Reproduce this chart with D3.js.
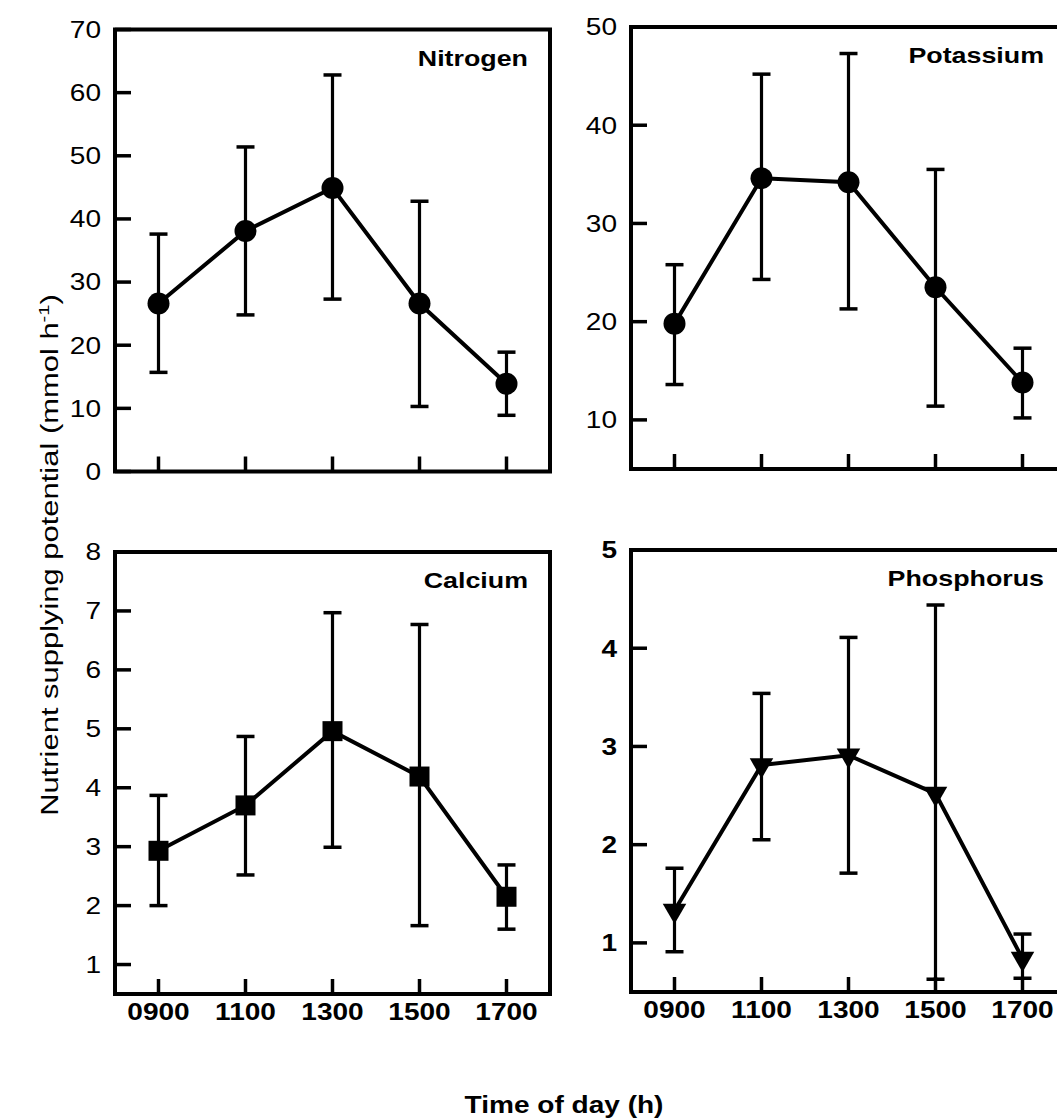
<!DOCTYPE html>
<html lang="en">
<head>
  <meta charset="UTF-8">
  <title>Nutrient supplying potential</title>
  <script src="https://d3js.org/d3.v7.min.js"></script>
  <style>
    body, html {
      margin: 0;
      padding: 0;
      background: #fff;
    }
    svg {
      display: block;
    }
    text {
      font-family: "Liberation Sans", Arial, sans-serif;
      fill: #000;
    }
  </style>
</head>
<body>
  <svg id="chart" width="1057" height="1119"></svg>

  <script>
    // Times of day (x categories)
    const times = ["0900", "1100", "1300", "1500", "1700"];

    // Nitrogen (mmol h-1): mean, upper and lower error bar ends
    const nitrogenMean = [26.6, 38.1, 44.9, 26.6, 13.9];
    const nitrogenHigh = [37.6, 51.4, 62.8, 42.8, 18.9];
    const nitrogenLow  = [15.7, 24.8, 27.3, 10.3, 8.9];
    const nitrogenTicks = [0, 10, 20, 30, 40, 50, 60, 70];

    // Potassium
    const potassiumMean = [19.8, 34.6, 34.2, 23.5, 13.8];
    const potassiumHigh = [25.8, 45.2, 47.3, 35.5, 17.3];
    const potassiumLow  = [13.6, 24.3, 21.3, 11.4, 10.2];
    const potassiumTicks = [10, 20, 30, 40, 50];

    // Calcium
    const calciumMean = [2.93, 3.70, 4.96, 4.19, 2.15];
    const calciumHigh = [3.87, 4.87, 6.97, 6.77, 2.69];
    const calciumLow  = [2.00, 2.52, 2.99, 1.66, 1.60];
    const calciumTicks = [1, 2, 3, 4, 5, 6, 7, 8];

    // Phosphorus
    const phosphorusMean = [1.33, 2.81, 2.91, 2.52, 0.84];
    const phosphorusHigh = [1.76, 3.54, 4.11, 4.44, 1.09];
    const phosphorusLow  = [0.91, 2.05, 1.71, 0.63, 0.64];
    const phosphorusTicks = [1, 2, 3, 4, 5];

    // layout
    const W = 435, H = 442;
    const SX = 1.22;       // horizontal stretch of the lettering
    const FS = 23;

    const panels = [
      { name: "Nitrogen",   mean: nitrogenMean,   hi: nitrogenHigh,   lo: nitrogenLow,
        ticks: nitrogenTicks,   domain: [0, 70],  marker: "circle",   x: 115, y: 29.5, boldY: false, xLabels: false },
      { name: "Potassium",  mean: potassiumMean,  hi: potassiumHigh,  lo: potassiumLow,
        ticks: potassiumTicks,  domain: [5, 50],  marker: "circle",   x: 631, y: 27,   boldY: false, xLabels: false },
      { name: "Calcium",    mean: calciumMean,    hi: calciumHigh,    lo: calciumLow,
        ticks: calciumTicks,    domain: [0.5, 8], marker: "square",   x: 115, y: 552,  boldY: false, xLabels: true },
      { name: "Phosphorus", mean: phosphorusMean, hi: phosphorusHigh, lo: phosphorusLow,
        ticks: phosphorusTicks, domain: [0.5, 5], marker: "triangle", x: 631, y: 550,  boldY: true,  xLabels: true }
    ];

    const svg = d3.select("#chart");
    svg.append("rect").attr("width", 1057).attr("height", 1119).attr("fill", "#fff");

    function label(g, x, y, str, anchor, size, bold) {
      return g.append("text")
        .attr("transform", `translate(${x},${y}) scale(${SX},1)`)
        .attr("text-anchor", anchor)
        .attr("font-size", size)
        .attr("font-weight", bold ? "bold" : "normal")
        .text(str);
    }

    function drawPanel(p) {
      const g = svg.append("g").attr("transform", `translate(${p.x},${p.y})`);

      const x = d3.scalePoint().domain(times).range([0, W]).padding(0.5);
      const y = d3.scaleLinear().domain(p.domain).range([H, 0]);

      const rows = times.map((t, i) => ({ t: t, m: p.mean[i], hi: p.hi[i], lo: p.lo[i] }));

      // frame
      g.append("rect")
        .attr("width", W).attr("height", H)
        .attr("fill", "none").attr("stroke", "#000").attr("stroke-width", 4);

      // y ticks (inside) + labels
      p.ticks.forEach(v => {
        g.append("line")
          .attr("x1", 0).attr("x2", 16)
          .attr("y1", y(v)).attr("y2", y(v))
          .attr("stroke", "#000").attr("stroke-width", 3.5);
        label(g, -14, y(v), String(v), "end", FS, p.boldY).attr("dy", "0.36em");
      });

      // x ticks (inside) + labels
      times.forEach(t => {
        g.append("line")
          .attr("x1", x(t)).attr("x2", x(t))
          .attr("y1", H).attr("y2", H - 15)
          .attr("stroke", "#000").attr("stroke-width", 3.5);
        if (p.xLabels) label(g, x(t), H + 26, t, "middle", FS, true);
      });

      // error bars
      const eb = g.selectAll(".err").data(rows).enter().append("g").attr("class", "err");
      eb.append("line")
        .attr("x1", d => x(d.t)).attr("x2", d => x(d.t))
        .attr("y1", d => y(d.hi)).attr("y2", d => y(d.lo))
        .attr("stroke", "#000").attr("stroke-width", 3.2);
      ["hi", "lo"].forEach(k => {
        eb.append("line")
          .attr("x1", d => x(d.t) - 9).attr("x2", d => x(d.t) + 9)
          .attr("y1", d => y(d[k])).attr("y2", d => y(d[k]))
          .attr("stroke", "#000").attr("stroke-width", 3.5);
      });

      // connecting line
      const line = d3.line().x(d => x(d.t)).y(d => y(d.m));
      g.append("path").datum(rows)
        .attr("d", line)
        .attr("fill", "none").attr("stroke", "#000").attr("stroke-width", 4);

      // markers
      const mk = g.selectAll(".mk").data(rows).enter().append("g")
        .attr("class", "mk")
        .attr("transform", d => `translate(${x(d.t)},${y(d.m)})`);
      if (p.marker === "circle") {
        mk.append("circle").attr("r", 11).attr("fill", "#000");
      } else if (p.marker === "square") {
        mk.append("rect").attr("x", -10).attr("y", -10).attr("width", 20).attr("height", 20).attr("fill", "#000");
      } else {
        mk.append("path")
          .attr("d", d3.symbol().type(d3.symbolTriangle).size(240)())
          .attr("transform", "rotate(180)")
          .attr("fill", "#000");
      }

      // panel title
      label(g, W - 22, 36, p.name, "end", 22, true);
    }

    panels.forEach(drawPanel);

    // x axis title
    label(svg, 564, 1113, "Time of day (h)", "middle", FS, true);

    // y axis title
    const yt = svg.append("text")
      .attr("text-anchor", "middle")
      .attr("font-size", FS);
    yt.append("tspan").text("Nutrient supplying potential (mmol h");
    yt.append("tspan").attr("font-size", 15).attr("dy", -9).text("-1");
    yt.append("tspan").attr("dy", 9).text(")");
    const len = yt.node().getComputedTextLength();
    const k = 522 / len;
    yt.attr("transform", `translate(58,555) rotate(-90) scale(${k},1)`);
  </script>
</body>
</html>
